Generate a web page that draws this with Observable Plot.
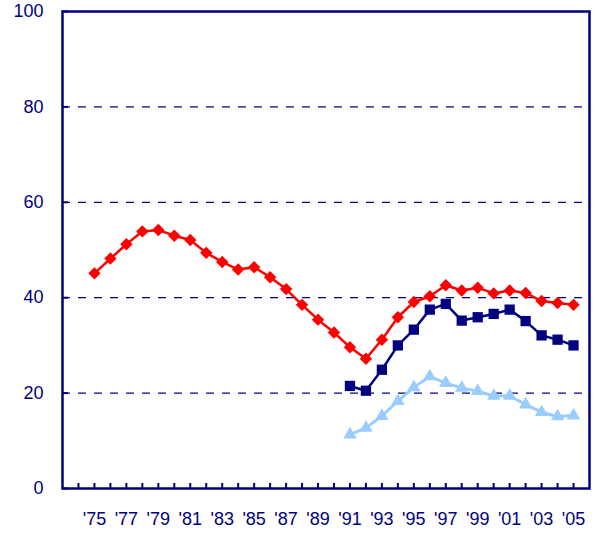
<!DOCTYPE html>
<html>
<head>
<meta charset="utf-8">
<script src="https://cdn.jsdelivr.net/npm/d3@7"></script>
<script src="https://cdn.jsdelivr.net/npm/@observablehq/plot@0.6"></script>
<style>
  html, body { margin: 0; padding: 0; background: #fff; }
  #chart svg { display: block; }
</style>
</head>
<body>
<div id="chart"></div>
<script>
// Data
const yearsRed = d3.range(1975, 2006);
const redValues = [45.1, 48.2, 51.2, 53.9, 54.2, 53.0, 52.1, 49.4, 47.5, 45.9, 46.4, 44.3, 41.8, 38.5, 35.4, 32.7, 29.6, 27.2, 31.2, 35.9, 39.1, 40.3, 42.6, 41.5, 42.1, 40.9, 41.5, 41.0, 39.3, 38.9, 38.5];
const yearsRecent = d3.range(1991, 2006);
const navyValues = [21.5, 20.5, 24.9, 30.0, 33.3, 37.5, 38.7, 35.2, 35.9, 36.6, 37.5, 35.1, 32.1, 31.2, 30.0];
const lightValues = [11.3, 12.7, 15.2, 18.3, 21.2, 23.5, 22.1, 21.1, 20.4, 19.4, 19.4, 17.6, 16.0, 15.1, 15.3];

const xTickYears = d3.range(1974, 2006);
const xLabelYears = d3.range(1975, 2006, 2);
const yTicks = [0, 20, 40, 60, 80, 100];
const gridValues = [20, 40, 60, 80];

const red = yearsRed.map((year, i) => ({year, value: redValues[i]}));
const navy = yearsRecent.map((year, i) => ({year, value: navyValues[i]}));
const light = yearsRecent.map((year, i) => ({year, value: lightValues[i]}));

const NAVY = "#000080";

const chart = Plot.plot({
  width: 595,
  height: 537,
  marginLeft: 62,
  marginRight: 6,
  marginTop: 11,
  marginBottom: 49,
  style: {fontFamily: "Arial, 'Liberation Sans', sans-serif", fontSize: "18px", color: NAVY, background: "#fff"},
  x: {domain: [1973, 2006]},
  y: {domain: [0, 100]},
  marks: [
    Plot.ruleY(gridValues, {stroke: NAVY, strokeWidth: 1.2, strokeDasharray: "8,8"}),
    Plot.axisY({ticks: yTicks, tickSize: 0, tickPadding: 19, label: null, fill: NAVY, fontSize: 18}),
    Plot.axisY({ticks: yTicks, tickSize: -6, text: null, label: null, stroke: NAVY, strokeWidth: 2}),
    Plot.axisX({ticks: xLabelYears, tickSize: 0, tickPadding: 24, label: null, fill: NAVY, fontSize: 18,
      tickFormat: d => "'" + String(d).slice(2)}),
    Plot.axisX({ticks: xTickYears, tickSize: -5, text: null, label: null, stroke: NAVY, strokeWidth: 2}),
    Plot.frame({stroke: NAVY, strokeWidth: 2.5}),
    Plot.line(light, {x: "year", y: "value", stroke: "#99CCFF", strokeWidth: 3}),
    Plot.dot(light, {x: "year", y: "value", symbol: "triangle", r: 5, fill: "#99CCFF", stroke: "none"}),
    Plot.line(navy, {x: "year", y: "value", stroke: NAVY, strokeWidth: 2.5}),
    Plot.dot(navy, {x: "year", y: "value", symbol: "square", r: 5.8, fill: NAVY, stroke: "none"}),
    Plot.line(red, {x: "year", y: "value", stroke: "#FF0000", strokeWidth: 2.5}),
    Plot.dot(red, {x: "year", y: "value", symbol: "diamond2", r: 5.6, fill: "#FF0000", stroke: "none"})
  ]
});
document.getElementById("chart").appendChild(chart);
</script>
</body>
</html>
